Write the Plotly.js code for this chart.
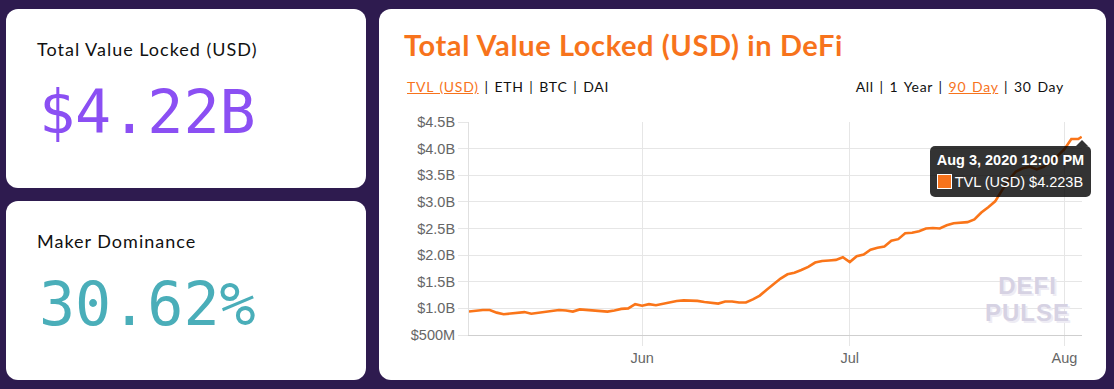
<!DOCTYPE html>
<html>
<head>
<meta charset="utf-8">
<script src="https://cdn.plot.ly/plotly-3.0.1.min.js"></script>
<style>
  html, body { margin:0; padding:0; }
  body { width:1114px; height:389px; background:#2e1b4f; position:relative; overflow:hidden; font-family:Lato, "Open Sans", sans-serif; }
  .card { position:absolute; background:#fff; border-radius:12px; }
  .lbl { position:absolute; left:31px; top:29.5px; font-size:18px; color:#111; line-height:20px; letter-spacing:1px; }
  .big { position:absolute; left:33px; top:73px; font-family:"DejaVu Sans Mono", monospace; font-size:60px; line-height:60px; }
  #title { position:absolute; left:25px; top:21px; font-size:29px; font-weight:bold; color:#f7731c; line-height:30px; letter-spacing:0.6px; white-space:nowrap; }
  .links { position:absolute; top:70px; font-size:14px; color:#111; line-height:16px; letter-spacing:0.7px; word-spacing:1.5px; white-space:nowrap; }
  .links a { color:#f7731c; text-decoration:underline; }
  #chart { position:absolute; left:0; top:101px; width:727px; height:270px; }
  #tip { position:absolute; background:rgba(0,0,0,0.8); color:#fff; border-radius:5px; padding:6px 7px 6px 7px; font-family:"Liberation Sans", Arial, sans-serif; font-size:14.5px; line-height:17px; white-space:nowrap; }
  #tip .t { font-weight:bold; margin-bottom:5px; }
  #tip .sw { display:inline-block; box-sizing:border-box; width:15px; height:15px; background:#f7731c; border:1.5px solid #fff; vertical-align:-2px; margin-right:3px; }
  #caret { position:absolute; width:0; height:0; border-left:6px solid transparent; border-right:6px solid transparent; border-bottom:6px solid rgba(0,0,0,0.8); }
  #wm { position:absolute; width:120px; font-family:"Liberation Sans", Arial, sans-serif; font-weight:bold; font-size:24px; line-height:27px; letter-spacing:1px; text-align:center; color:#d6d2e3; text-shadow:2px 2px 0 #eeecf4; }
</style>
</head>
<body>
<div class="card" style="left:6px;top:9px;width:360px;height:179px;">
  <div class="lbl">Total Value Locked (USD)</div>
  <div class="big" style="color:#8b4ff3;">$4.22B</div>
</div>
<div class="card" style="left:6px;top:201px;width:360px;height:179px;">
  <div class="lbl">Maker Dominance</div>
  <div class="big" style="color:#4aaeb9;">30.62%</div>
</div>
<div class="card" id="main" style="left:379px;top:9px;width:727px;height:371px;">
  <div id="title">Total Value Locked (USD) in DeFi</div>
  <div class="links" style="left:28px;"><a>TVL (USD)</a> | ETH | BTC | DAI</div>
  <div class="links" style="right:42px;">All | 1 Year | <a>90 Day</a> | 30 Day</div>
  <div id="chart"></div>
  <div id="wm">DEFI<br>PULSE</div>
  <div id="caret"></div>
  <div id="tip"><div class="t">Aug 3, 2020 12:00 PM</div><span class="sw"></span>TVL (USD) $4.223B</div>
</div>
<script>
// ---- data ----
const dates = [
  "2020-05-07","2020-05-08","2020-05-09","2020-05-10","2020-05-11","2020-05-12","2020-05-13","2020-05-14","2020-05-15","2020-05-16",
  "2020-05-17","2020-05-18","2020-05-19","2020-05-20","2020-05-21","2020-05-22","2020-05-23","2020-05-24","2020-05-25","2020-05-26",
  "2020-05-27","2020-05-28","2020-05-29","2020-05-30","2020-05-31",
  "2020-06-01","2020-06-02","2020-06-03","2020-06-04","2020-06-05","2020-06-06","2020-06-07","2020-06-08","2020-06-09","2020-06-10",
  "2020-06-11","2020-06-12","2020-06-13","2020-06-14","2020-06-15","2020-06-16","2020-06-17","2020-06-18","2020-06-19","2020-06-20",
  "2020-06-21","2020-06-22","2020-06-23","2020-06-24","2020-06-25","2020-06-26","2020-06-27","2020-06-28","2020-06-29","2020-06-30",
  "2020-07-01","2020-07-02","2020-07-03","2020-07-04","2020-07-05","2020-07-06","2020-07-07","2020-07-08","2020-07-09","2020-07-10",
  "2020-07-11","2020-07-12","2020-07-13","2020-07-14","2020-07-15","2020-07-16","2020-07-17","2020-07-18","2020-07-19","2020-07-20",
  "2020-07-21","2020-07-22","2020-07-23","2020-07-24","2020-07-25","2020-07-26","2020-07-27","2020-07-28","2020-07-29","2020-07-30",
  "2020-07-31","2020-08-01","2020-08-02","2020-08-03","2020-08-03 12:00"
];
const tvlBillions = [
  0.94,0.96,0.97,0.97,0.92,0.89,0.90,0.91,0.93,0.90,
  0.92,0.94,0.96,0.97,0.96,0.94,0.98,0.97,0.95,0.95,
  0.94,0.96,0.99,1.00,1.08,
  1.05,1.08,1.06,1.09,1.12,1.14,1.15,1.15,1.14,1.12,
  1.10,1.09,1.13,1.13,1.11,1.11,1.17,1.24,1.35,1.46,
  1.56,1.64,1.67,1.72,1.78,1.86,1.89,1.90,1.91,1.96,
  1.87,1.98,2.01,2.10,2.14,2.16,2.27,2.30,2.41,2.42,
  2.45,2.50,2.51,2.50,2.56,2.60,2.61,2.62,2.67,2.80,
  2.90,3.01,3.22,3.42,3.57,3.63,3.66,3.61,3.66,3.76,
  3.86,3.99,4.18,4.18,4.223
];
const yTickVals = [0.5,1.0,1.5,2.0,2.5,3.0,3.5,4.0,4.5];
const yTickText = ["$500M","$1.0B","$1.5B","$2.0B","$2.5B","$3.0B","$3.5B","$4.0B","$4.5B"];
const xTickVals = ["2020-06-01","2020-07-01","2020-08-01"];
const xTickText = ["Jun","Jul","Aug"];
const xRange = ["2020-05-07","2020-08-03 13:00"];
const seriesName = "TVL (USD)";

const grid = "#e6e6e6";
const trace = {
  x: dates, y: tvlBillions, type: "scatter", mode: "lines", name: seriesName,
  line: {color: "#fa7519", width: 2.6, shape: "linear"}, hoverinfo: "skip"
};
const layout = {
  width: 727, height: 270,
  margin: {l: 90, r: 24, t: 12, b: 45},
  paper_bgcolor: "rgba(0,0,0,0)", plot_bgcolor: "rgba(0,0,0,0)",
  showlegend: false,
  font: {family: "Liberation Sans, Arial, sans-serif", size: 14.5, color: "#666"},
  xaxis: {
    type: "date", range: xRange, tickvals: xTickVals, ticktext: xTickText,
    showgrid: true, gridcolor: grid, gridwidth: 1,
    ticks: "outside", ticklen: 10, tickcolor: grid, tickwidth: 1,
    showline: true, linecolor: "#cfcfcf", linewidth: 1,
    zeroline: false, fixedrange: true, tickfont: {size: 14.5, color: "#666"}
  },
  yaxis: {
    range: [0.5, 4.5], tickvals: yTickVals, ticktext: yTickText,
    showgrid: true, gridcolor: grid, gridwidth: 1,
    ticks: "outside", ticklen: 10, tickcolor: grid, tickwidth: 1,
    showline: true, linecolor: "#e0e0e0", linewidth: 1,
    zeroline: false, fixedrange: true, tickfont: {size: 14.5, color: "#666"}
  }
};
Plotly.newPlot("chart", [trace], layout, {displayModeBar: false, staticPlot: true}).then(function(gd){
  const xa = gd._fullLayout.xaxis, ya = gd._fullLayout.yaxis;
  const chartLeft = 0, chartTop = 101;
  const n = dates.length - 1;
  const px = chartLeft + xa._offset + xa.l2p(xa.d2l(dates[n]));
  const py = chartTop + ya._offset + ya.l2p(tvlBillions[n]);
  const tip = document.getElementById("tip");
  const w = tip.offsetWidth;
  tip.style.left = (px + 10 - w) + "px";
  tip.style.top = (py + 9.5) + "px";
  const caret = document.getElementById("caret");
  caret.style.left = (px - 6) + "px";
  caret.style.top = (py + 3.5) + "px";
  // watermark in lower-right corner of the plot area
  const wm = document.getElementById("wm");
  const plotRight = chartLeft + xa._offset + xa._length;
  const plotBottom = chartTop + ya._offset + ya._length;
  wm.style.left = (plotRight - 114.5) + "px";
  wm.style.top = (plotBottom - 63.5) + "px";
});
</script>
</body>
</html>
